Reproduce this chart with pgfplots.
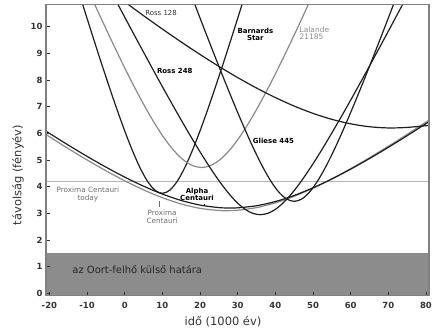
\documentclass[border=0pt]{standalone}
\usepackage{fontspec}
\setmainfont{DejaVu Sans}
\usepackage{pgfplots}
\pgfplotsset{compat=1.18}
\definecolor{band}{HTML}{8C8C8C}
\definecolor{frame}{HTML}{808080}
\definecolor{cblack}{HTML}{1E1E1E}
\definecolor{cgray}{HTML}{8A8A8A}
\definecolor{hline}{HTML}{B4B4B4}
\definecolor{txt}{HTML}{333333}
\begin{document}
\begin{tikzpicture}
\begin{axis}[
 scale only axis, width=383bp, height=291bp,
 xmin=-20.9, xmax=80.8, ymin=-0.086, ymax=10.82,
 xtick={-20,-10,...,80}, ytick={0,1,...,10},
 tick pos=left, tick align=inside, major tick length=4bp,
 axis line style={draw=frame, line width=1.2bp},
 tick style={draw=txt, line width=0.8bp},
 /pgf/number format/assume math mode=true,
 ticklabel style={font=\bfseries\fontsize{8.5}{10}\selectfont, text=txt},
 xticklabel style={yshift=-3bp},
 xlabel={idő (1000 év)}, ylabel={távolság (fényév)},
 label style={font=\fontsize{11.5}{13}\selectfont, text=txt},
 xlabel style={at={(axis description cs:0.462,-0.0904)}, anchor=center},
 ylabel style={at={(axis description cs:-0.073,0.415)}, anchor=center},
 axis on top,
]
% Oort cloud band
\addplot[draw=none, fill=band, forget plot] coordinates {(-25,-1) (-25,1.53) (85,1.53) (85,-1)} -- cycle;
% Proxima today line
\addplot[hline, line width=0.8bp, forget plot] coordinates {(-25,4.2) (85,4.2)};
% Proxima Centauri (gray)
\addplot[cgray, line width=1.2bp, smooth] coordinates {
(-21,5.961) (-15,5.427) (-10,5.001) (-5,4.597) (0,4.220) (5,3.880) (10,3.586) (15,3.351) (20,3.188) (25,3.107) (27,3.1) (30,3.116) (35,3.214) (40,3.393) (45,3.641) (50,3.945) (55,4.293) (60,4.676) (65,5.085) (70,5.515) (75,5.961) (81,6.513)};
% Alpha Centauri (black)
\addplot[cblack, line width=1.2bp, smooth] coordinates {
(-21,6.089) (-15,5.560) (-10,5.136) (-5,4.735) (0,4.359) (5,4.019) (10,3.723) (15,3.483) (20,3.310) (25,3.216) (28,3.2) (30,3.207) (35,3.285) (40,3.442) (45,3.670) (50,3.956) (55,4.288) (60,4.657) (65,5.054) (70,5.474) (75,5.911) (81,6.453)};
% Barnard's Star
\addplot[cblack, line width=1.2bp, smooth] coordinates {
(-12,11.208) (-10,10.308) (-8,9.420) (-6,8.548) (-4,7.697) (-2,6.874) (0,6.092) (2,5.368) (4,4.729) (6,4.213) (8,3.871) (10,3.75) (12,3.871) (14,4.213) (16,4.729) (18,5.368) (20,6.092) (22,6.874) (24,7.697) (26,8.548) (28,9.420) (30,10.308) (32,11.208)};
% Lalande 21185 (gray)
\addplot[cgray, line width=1.2bp, smooth] coordinates {
(-9.6,11.339) (-7.6,10.718) (-5.6,10.105) (-3.6,9.503) (-1.6,8.913) (0.4,8.338) (2.4,7.781) (4.4,7.247) (6.4,6.740) (8.4,6.268) (10.4,5.839) (12.4,5.463) (14.4,5.151) (16.4,4.916) (18.4,4.770) (20.4,4.72) (22.4,4.770) (24.4,4.916) (26.4,5.151) (28.4,5.463) (30.4,5.839) (32.4,6.268) (34.4,6.740) (36.4,7.247) (38.4,7.781) (40.4,8.338) (42.4,8.913) (44.4,9.503) (46.4,10.105) (48.4,10.718) (50.4,11.339)};
% Ross 248
\addplot[cblack, line width=1.2bp, smooth] coordinates {
(-4,11.415) (-2,10.883) (0,10.354) (2,9.826) (4,9.302) (6,8.781) (8,8.263) (10,7.751) (12,7.244) (14,6.744) (16,6.253) (18,5.773) (20,5.306) (22,4.858) (24,4.432) (26,4.037) (28,3.683) (30,3.382) (32,3.149) (34,3.001) (36,2.95) (38,3.001) (40,3.149) (42,3.382) (44,3.683) (46,4.037) (48,4.432) (50,4.858) (52,5.306) (54,5.773) (56,6.253) (58,6.744) (60,7.244) (62,7.751) (64,8.263) (66,8.781) (68,9.302) (70,9.826) (72,10.354) (74,10.883) (76,11.415)};
% Gliese 445
\addplot[cblack, line width=1.2bp, smooth] coordinates {
(17,11.428) (19,10.689) (21,9.955) (23,9.229) (25,8.512) (27,7.807) (29,7.118) (31,6.448) (33,5.805) (35,5.200) (37,4.646) (39,4.165) (41,3.784) (43,3.536) (45,3.45) (47,3.536) (49,3.784) (51,4.165) (53,4.646) (55,5.200) (57,5.805) (59,6.448) (61,7.118) (63,7.807) (65,8.512) (67,9.229) (69,9.955) (71,10.689) (73,11.428)};
% Ross 128
\addplot[cblack, line width=1.2bp, smooth] coordinates {
(-3,11.240) (0,10.925) (5,10.409) (10,9.908) (15,9.422) (20,8.955) (25,8.509) (30,8.088) (35,7.697) (40,7.339) (45,7.021) (50,6.747) (55,6.523) (60,6.355) (65,6.246) (70,6.201) (75,6.221) (81,6.300)};
% annotations
\node[inner sep=0, text=txt, font=\fontsize{7}{8}\selectfont] at (axis cs:9.65,10.5) {Ross 128};
\node[inner sep=0, text=black, font=\bfseries\fontsize{7}{8}\selectfont] at (axis cs:13.3,8.34) {Ross 248};
\node[inner sep=0, text=black, align=center, font=\bfseries\fontsize{7}{7.6}\selectfont] at (axis cs:34.7,9.71) {Barnards\\Star};
\node[inner sep=0, text=cgray, align=left, anchor=west, font=\fontsize{7.5}{7.8}\selectfont] at (axis cs:46.4,9.75) {Lalande\\21185};
\node[inner sep=0, text=black, anchor=west, font=\bfseries\fontsize{7}{8}\selectfont] at (axis cs:34.0,5.73) {Gliese 445};
\node[inner sep=0, text=cgray!80!black, align=center, font=\fontsize{7.3}{7.6}\selectfont] at (axis cs:-9.78,3.71) {Proxima Centauri\\today};
\node[inner sep=0, text=cgray!80!black, align=center, font=\fontsize{7.3}{7.6}\selectfont] at (axis cs:9.93,2.88) {Proxima\\Centauri};
\node[inner sep=0, text=black, align=center, font=\bfseries\fontsize{7}{7.6}\selectfont] at (axis cs:19.2,3.71) {Alpha\\Centauri};
\draw[cgray!80!black, line width=0.8bp] (axis cs:9.12,3.48) -- (axis cs:9.12,3.25);
\draw[black, line width=0.6bp] (axis cs:21.15,3.36) -- (axis cs:21.15,3.26);
\node[inner sep=0, text=black!85, font=\fontsize{10}{12}\selectfont] at (axis cs:3.33,0.88) {az Oort-felhő külső határa};
\end{axis}
\path[use as bounding box] ([xshift=-46bp,yshift=-36.3bp]current axis.south west) rectangle ([xshift=7bp,yshift=4.7bp]current axis.north east);
\end{tikzpicture}
\end{document}
